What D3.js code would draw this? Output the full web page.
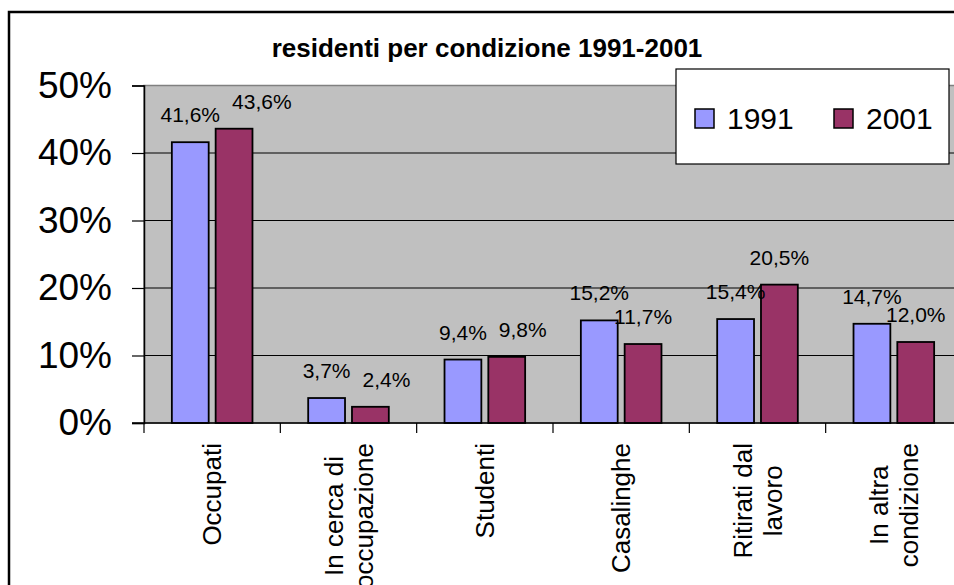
<!DOCTYPE html>
<html>
<head>
<meta charset="utf-8">
<script src="https://cdn.jsdelivr.net/npm/d3@7"></script>
<style>
  html, body { margin: 0; padding: 0; background: #fff; }
  svg { display: block; font-family: Arial, "Liberation Sans", sans-serif; }
</style>
</head>
<body>
<div id="chart"></div>
<script>
const categories = [
  ['Occupati'],
  ['In cerca di', 'occupazione'],
  ['Studenti'],
  ['Casalinghe'],
  ['Ritirati dal', 'lavoro'],
  ['In altra', 'condizione']
];
const seriesNames = ['1991', '2001'];
const values1991 = [41.6, 3.7, 9.4, 15.2, 15.4, 14.7];
const values2001 = [43.6, 2.4, 9.8, 11.7, 20.5, 12.0];
const yTicks = [0, 10, 20, 30, 40, 50];
const colors = ['#9999ff', '#993366'];

const W = 954, H = 585;
const plot = { left: 144, top: 85.5, right: 962, bottom: 423 };

const svg = d3.select('#chart').append('svg')
  .attr('width', W).attr('height', H);

// chart area border
svg.append('rect')
  .attr('x', 9).attr('y', 12)
  .attr('width', 1000).attr('height', 1000)
  .attr('fill', '#fff').attr('stroke', '#000').attr('stroke-width', 2.5);

svg.append('text')
  .attr('x', 487).attr('y', 57)
  .attr('text-anchor', 'middle')
  .attr('font-weight', 'bold')
  .attr('font-size', 26)
  .text('residenti per condizione 1991-2001');

const x0 = d3.scaleBand()
  .domain(d3.range(categories.length))
  .range([plot.left, plot.right]);

const x1 = d3.scaleBand()
  .domain(seriesNames)
  .range([0, x0.bandwidth()])
  .paddingInner(0.159)
  .paddingOuter(0.636);

const y = d3.scaleLinear()
  .domain([0, 50])
  .range([plot.bottom, plot.top]);

// plot background
svg.append('rect')
  .attr('x', plot.left).attr('y', plot.top)
  .attr('width', plot.right - plot.left).attr('height', plot.bottom - plot.top)
  .attr('fill', '#c0c0c0').attr('stroke', '#808080').attr('stroke-width', 1.5);

// gridlines
svg.append('g')
  .selectAll('line')
  .data(yTicks.filter(d => d > 0 && d < 50))
  .join('line')
  .attr('x1', plot.left).attr('x2', plot.right)
  .attr('y1', d => y(d)).attr('y2', d => y(d))
  .attr('stroke', '#000').attr('stroke-width', 1.2);

// bars
const series = [values1991, values2001];
const groups = svg.append('g')
  .selectAll('g')
  .data(categories.map((c, i) => i))
  .join('g')
  .attr('transform', i => `translate(${x0(i)},0)`);

groups.selectAll('rect')
  .data(i => seriesNames.map((s, k) => ({ s, k, v: series[k][i] })))
  .join('rect')
  .attr('x', d => x1(d.s))
  .attr('width', x1.bandwidth())
  .attr('y', d => y(d.v))
  .attr('height', d => y(0) - y(d.v))
  .attr('fill', d => colors[d.k])
  .attr('stroke', '#000')
  .attr('stroke-width', 1.8);

// y axis
const yAxis = svg.append('g')
  .attr('transform', `translate(${plot.left},0)`)
  .call(d3.axisLeft(y).tickValues(yTicks).tickFormat(d => d + '%').tickSize(12).tickPadding(20));
yAxis.select('.domain').attr('stroke', '#000').attr('stroke-width', 1.5);
yAxis.selectAll('.tick line').attr('stroke', '#000').attr('stroke-width', 1.2);
yAxis.selectAll('text')
  .attr('font-size', 37).attr('fill', '#000')
  .attr('font-family', 'Arial, "Liberation Sans", sans-serif');

// x axis line + ticks at category boundaries
const xAxis = svg.append('g');
xAxis.append('line')
  .attr('x1', plot.left - 12).attr('x2', plot.right)
  .attr('y1', plot.bottom).attr('y2', plot.bottom)
  .attr('stroke', '#000').attr('stroke-width', 1.5);
xAxis.selectAll('line.tk')
  .data(d3.range(categories.length + 1))
  .join('line')
  .attr('class', 'tk')
  .attr('x1', i => plot.left + i * x0.step()).attr('x2', i => plot.left + i * x0.step())
  .attr('y1', plot.bottom).attr('y2', plot.bottom + 10)
  .attr('stroke', '#000').attr('stroke-width', 1.2);

// category labels, rotated, lines centred, block ending at top
const catFont = 26, lineH = 30, labelTop = 443;
categories.forEach((lines, i) => {
  const cx = x0(i) + x0.bandwidth() / 2;
  const g = svg.append('g');
  const texts = lines.map((ln, j) => g.append('text')
    .attr('font-size', catFont)
    .attr('text-anchor', 'middle')
    .attr('y', 0.35 * catFont + (j - (lines.length - 1) / 2) * lineH)
    .text(ln));
  const maxLen = d3.max(texts, t => t.node().getComputedTextLength());
  texts.forEach(t => t.attr('x', -maxLen / 2));
  g.attr('transform', `translate(${cx},${labelTop}) rotate(-90)`);
});

// data labels
const fmt = v => v.toFixed(1).replace('.', ',') + '%';
const labelFont = 21, labelGap = 20;
categories.forEach((c, i) => {
  let prev = null;
  seriesNames.forEach((s, k) => {
    const v = series[k][i];
    const cx = x0(i) + x1(s) + x1.bandwidth() / 2;
    const by = y(v) - labelGap;
    const t = svg.append('text')
      .attr('font-size', labelFont)
      .attr('text-anchor', 'middle')
      .attr('x', cx).attr('y', by)
      .text(fmt(v));
    const w = t.node().getComputedTextLength();
    let left = cx - w / 2;
    if (prev && Math.abs(prev.by - by) < 15 && left < prev.right + 12) {
      left = prev.right + 12;
      t.attr('x', left + w / 2);
    }
    prev = { by, right: left + w };
  });
});

// legend
const legend = svg.append('g');
legend.append('rect')
  .attr('x', 676).attr('y', 69).attr('width', 273).attr('height', 95)
  .attr('fill', '#fff').attr('stroke', '#000').attr('stroke-width', 1.2);
const legX = [695, 834];
seriesNames.forEach((s, k) => {
  legend.append('rect')
    .attr('x', legX[k]).attr('y', 109).attr('width', 19).attr('height', 19)
    .attr('fill', colors[k]).attr('stroke', '#000').attr('stroke-width', 1.5);
  legend.append('text')
    .attr('x', legX[k] + 32).attr('y', 128.5)
    .attr('font-size', 30)
    .text(s);
});
</script>
</body>
</html>
